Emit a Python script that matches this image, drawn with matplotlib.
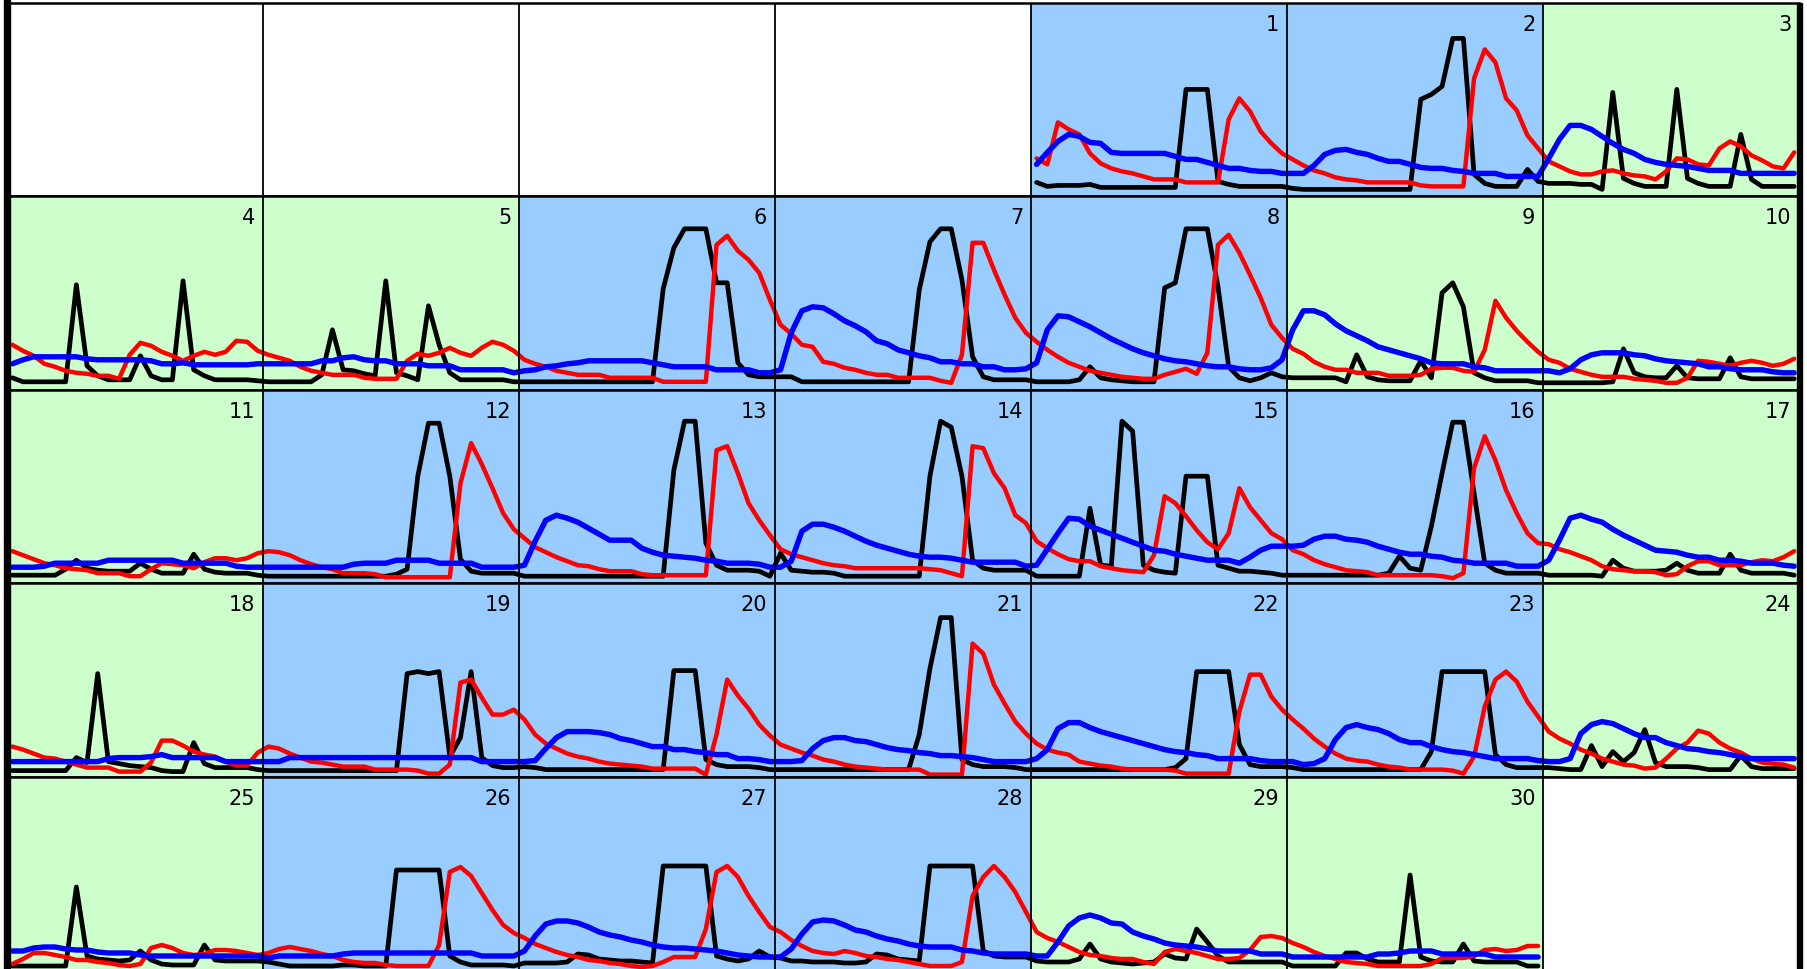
"""Month calendar of hourly profiles: one cell per day, three series per cell."""

import matplotlib

matplotlib.use("Agg")
import matplotlib.pyplot as plt  # noqa: E402
from matplotlib.patches import Rectangle  # noqa: E402

# layout of the month: day 1 falls in column 4 of the first row
FIRST_COL = 4
N_COLS = 7
N_ROWS = 5
GREEN_DAYS = [3, 4, 5, 9, 10, 11, 17, 18, 24, 25, 29, 30]

# hourly values (24 per day), cell height = 193
BLACK = [
    [14, 10, 11, 11, 11, 12, 9, 9, 9, 9, 9, 9, 9, 9, 107, 107, 107, 15, 12, 10, 10, 10, 10, 10],
    [8, 7, 7, 7, 7, 7, 7, 7, 7, 7, 7, 7, 97, 102, 110, 158, 158, 22, 13, 10, 10, 10, 27, 15],
    [13, 13, 13, 12, 12, 7, 104, 18, 13, 10, 10, 10, 107, 18, 13, 10, 10, 10, 62, 17, 10, 10, 10, 10],
    [12, 8, 8, 8, 8, 8, 105, 24, 14, 10, 10, 10, 34, 14, 10, 10, 109, 20, 14, 10, 10, 10, 10, 9],
    [8, 8, 8, 8, 8, 15, 60, 20, 19, 16, 14, 109, 17, 14, 10, 84, 45, 17, 10, 10, 10, 10, 10, 8],
    [8, 8, 8, 8, 8, 8, 8, 8, 8, 8, 8, 8, 8, 101, 142, 161, 161, 161, 107, 107, 27, 15, 13, 13],
    [13, 13, 8, 8, 8, 8, 8, 8, 8, 8, 8, 8, 8, 100, 148, 161, 161, 110, 33, 13, 10, 10, 10, 10],
    [8, 8, 8, 8, 10, 23, 12, 10, 9, 8, 8, 8, 102, 107, 161, 161, 161, 103, 23, 12, 9, 12, 17, 13],
    [12, 12, 12, 12, 12, 8, 35, 13, 10, 9, 9, 9, 29, 12, 97, 107, 83, 17, 12, 9, 9, 9, 9, 7],
    [7, 7, 7, 7, 7, 7, 8, 41, 17, 13, 12, 12, 24, 12, 11, 11, 11, 32, 13, 11, 11, 11, 11, 11],
    [8, 8, 8, 8, 8, 14, 23, 15, 13, 12, 12, 12, 20, 14, 10, 10, 10, 29, 14, 11, 10, 10, 10, 8],
    [7, 7, 7, 7, 7, 7, 7, 7, 7, 7, 7, 7, 9, 14, 107, 160, 160, 107, 24, 12, 10, 10, 10, 10],
    [7, 7, 7, 7, 7, 7, 7, 7, 7, 7, 7, 7, 7, 7, 113, 162, 162, 40, 18, 13, 13, 13, 12, 7],
    [30, 13, 12, 11, 11, 10, 7, 7, 7, 7, 7, 7, 7, 7, 107, 162, 156, 107, 23, 15, 13, 13, 13, 13],
    [7, 7, 7, 7, 7, 75, 18, 17, 162, 152, 18, 13, 11, 10, 107, 107, 107, 18, 15, 12, 12, 11, 10, 8],
    [8, 8, 8, 8, 8, 8, 8, 8, 8, 10, 27, 15, 13, 57, 110, 161, 161, 90, 20, 13, 10, 10, 10, 10],
    [8, 8, 8, 8, 8, 7, 23, 15, 12, 12, 12, 13, 20, 13, 10, 10, 10, 29, 13, 10, 10, 10, 10, 8],
    [6, 6, 6, 6, 6, 6, 19, 14, 103, 15, 13, 11, 10, 9, 6, 5, 5, 34, 13, 9, 9, 9, 9, 7],
    [6, 6, 6, 6, 6, 6, 6, 6, 6, 6, 6, 6, 6, 103, 105, 103, 105, 20, 39, 105, 19, 11, 9, 9],
    [10, 9, 7, 7, 7, 7, 7, 7, 7, 7, 7, 7, 7, 7, 106, 106, 106, 17, 12, 10, 10, 10, 9, 7],
    [7, 7, 7, 7, 7, 7, 7, 7, 7, 7, 7, 7, 7, 42, 108, 159, 159, 17, 12, 10, 10, 10, 9, 7],
    [7, 7, 7, 7, 7, 7, 7, 7, 7, 7, 7, 7, 7, 9, 18, 105, 105, 105, 105, 32, 12, 10, 10, 10],
    [9, 7, 7, 7, 7, 7, 7, 7, 7, 7, 7, 7, 7, 25, 105, 105, 105, 105, 105, 22, 12, 9, 9, 9],
    [9, 8, 7, 7, 31, 10, 25, 15, 24, 47, 14, 10, 10, 10, 9, 7, 7, 7, 21, 10, 8, 8, 8, 8],
    [4, 4, 4, 4, 4, 4, 83, 14, 11, 10, 9, 10, 19, 10, 6, 5, 5, 5, 25, 10, 9, 9, 9, 9],
    [8, 6, 4, 4, 4, 4, 4, 5, 5, 4, 4, 4, 100, 100, 100, 100, 100, 14, 8, 5, 5, 5, 5, 4],
    [7, 7, 7, 7, 8, 16, 15, 11, 10, 9, 9, 8, 7, 104, 104, 104, 104, 104, 14, 11, 9, 11, 19, 13],
    [12, 9, 9, 8, 8, 8, 7, 7, 8, 16, 15, 11, 10, 9, 104, 104, 104, 104, 104, 19, 14, 13, 13, 13],
    [9, 8, 8, 8, 11, 26, 11, 8, 7, 6, 7, 8, 16, 12, 11, 41, 28, 14, 8, 8, 8, 8, 8, 8],
    [4, 4, 4, 4, 4, 17, 17, 11, 8, 8, 8, 95, 13, 9, 8, 8, 26, 9, 8, 8, 8, 8, 4, 4],
]

RED = [
    [38, 32, 74, 67, 62, 43, 33, 28, 25, 23, 20, 17, 17, 17, 14, 14, 14, 14, 77, 98, 85, 65, 53, 43],
    [37, 31, 26, 23, 19, 17, 16, 14, 14, 14, 14, 14, 11, 10, 10, 10, 10, 118, 147, 134, 98, 86, 61, 48],
    [35, 30, 25, 22, 22, 25, 26, 23, 21, 20, 17, 25, 38, 37, 32, 31, 48, 55, 50, 41, 36, 30, 28, 44],
    [45, 39, 34, 26, 23, 19, 17, 16, 14, 14, 11, 35, 47, 44, 38, 34, 29, 34, 38, 35, 38, 49, 48, 39],
    [35, 32, 29, 23, 19, 17, 15, 15, 15, 12, 11, 11, 11, 29, 36, 34, 37, 42, 37, 34, 42, 48, 45, 39],
    [30, 26, 23, 19, 17, 15, 15, 15, 12, 12, 12, 12, 12, 8, 8, 8, 8, 8, 145, 154, 139, 130, 117, 90],
    [65, 56, 45, 43, 28, 26, 22, 20, 17, 15, 15, 12, 12, 12, 12, 9, 7, 35, 147, 147, 120, 95, 72, 57],
    [48, 40, 33, 27, 23, 19, 17, 15, 13, 12, 11, 11, 15, 18, 21, 16, 37, 145, 155, 137, 115, 92, 65, 52],
    [41, 36, 28, 23, 20, 20, 17, 17, 17, 14, 14, 14, 15, 21, 22, 22, 19, 18, 40, 89, 72, 59, 48, 38],
    [30, 27, 21, 18, 15, 13, 13, 13, 11, 10, 9, 7, 7, 12, 29, 28, 26, 24, 27, 29, 27, 24, 26, 31],
    [32, 28, 24, 20, 18, 15, 14, 13, 10, 10, 10, 7, 7, 14, 20, 19, 18, 15, 21, 25, 25, 23, 25, 30],
    [32, 31, 28, 23, 19, 16, 14, 10, 10, 10, 9, 6, 6, 6, 6, 6, 6, 6, 100, 140, 119, 95, 70, 54],
    [45, 36, 31, 26, 22, 18, 17, 14, 12, 12, 12, 9, 8, 8, 8, 8, 8, 8, 133, 137, 110, 80, 63, 48],
    [34, 29, 26, 23, 20, 18, 17, 15, 15, 15, 15, 15, 15, 15, 14, 13, 10, 7, 137, 135, 110, 95, 68, 60],
    [42, 35, 29, 24, 22, 22, 17, 15, 13, 12, 11, 28, 87, 80, 67, 53, 41, 34, 50, 95, 76, 63, 50, 44],
    [33, 29, 23, 19, 16, 13, 12, 11, 8, 8, 8, 8, 8, 8, 7, 5, 10, 115, 147, 123, 93, 70, 50, 40],
    [39, 34, 31, 27, 23, 17, 14, 13, 12, 12, 11, 8, 9, 17, 22, 22, 18, 18, 18, 21, 23, 22, 26, 32],
    [30, 27, 23, 19, 18, 15, 12, 9, 9, 9, 5, 5, 5, 14, 36, 36, 31, 25, 22, 20, 15, 11, 11, 24],
    [30, 28, 23, 19, 15, 14, 12, 10, 10, 10, 7, 7, 7, 7, 6, 3, 3, 12, 94, 97, 79, 62, 62, 67],
    [57, 42, 33, 28, 23, 20, 18, 15, 13, 12, 11, 10, 8, 8, 8, 8, 8, 2, 42, 97, 81, 68, 52, 41],
    [32, 28, 24, 21, 17, 15, 12, 10, 9, 8, 7, 7, 7, 7, 2, 2, 2, 2, 133, 123, 92, 73, 55, 43],
    [33, 27, 24, 22, 15, 13, 11, 10, 8, 7, 7, 7, 7, 6, 3, 3, 3, 3, 3, 65, 102, 102, 80, 67],
    [57, 48, 38, 30, 23, 18, 16, 15, 12, 10, 9, 7, 7, 7, 7, 6, 3, 20, 70, 97, 105, 95, 75, 60],
    [45, 38, 33, 27, 23, 18, 15, 12, 11, 8, 9, 18, 28, 34, 46, 43, 34, 28, 24, 18, 14, 13, 12, 9],
    [6, 11, 17, 17, 15, 13, 10, 10, 8, 7, 5, 4, 6, 22, 25, 22, 17, 15, 16, 20, 20, 19, 17, 15],
    [17, 21, 23, 21, 19, 16, 14, 10, 8, 7, 7, 5, 4, 4, 4, 4, 25, 98, 103, 94, 77, 60, 45, 37],
    [32, 26, 22, 18, 15, 13, 10, 9, 7, 6, 4, 3, 4, 8, 13, 13, 13, 41, 98, 104, 93, 74, 58, 43],
    [38, 30, 24, 19, 17, 16, 19, 17, 14, 13, 11, 10, 8, 6, 4, 4, 4, 8, 74, 93, 104, 93, 78, 58],
    [38, 32, 28, 23, 18, 15, 14, 12, 11, 11, 8, 6, 18, 21, 19, 17, 14, 11, 11, 12, 20, 33, 34, 32],
    [27, 23, 18, 14, 11, 8, 7, 6, 4, 4, 4, 4, 4, 6, 12, 12, 12, 14, 20, 21, 19, 20, 24, 24],
]

BLUE = [
    [32, 44, 55, 62, 60, 54, 53, 44, 43, 43, 43, 43, 43, 40, 37, 37, 34, 31, 28, 28, 26, 25, 25, 23],
    [23, 23, 31, 42, 46, 47, 44, 42, 38, 35, 35, 32, 29, 28, 28, 26, 25, 23, 23, 23, 20, 20, 20, 20],
    [38, 57, 71, 71, 67, 60, 53, 47, 43, 37, 34, 32, 31, 30, 28, 26, 26, 26, 23, 23, 23, 23, 23, 23],
    [26, 30, 33, 33, 33, 33, 33, 31, 30, 30, 30, 30, 30, 29, 26, 26, 27, 25, 25, 25, 25, 25, 25, 26],
    [26, 26, 26, 26, 26, 29, 29, 32, 33, 30, 29, 29, 26, 26, 26, 24, 24, 24, 20, 20, 20, 20, 20, 17],
    [19, 20, 23, 24, 26, 27, 29, 29, 29, 29, 29, 29, 27, 25, 23, 23, 23, 23, 20, 20, 20, 20, 17, 17],
    [20, 57, 79, 83, 82, 76, 69, 64, 58, 49, 46, 40, 37, 34, 32, 28, 28, 26, 26, 23, 23, 20, 20, 21],
    [27, 60, 74, 73, 68, 63, 57, 51, 46, 41, 37, 34, 31, 29, 28, 26, 24, 23, 23, 21, 20, 20, 22, 30],
    [60, 79, 79, 75, 66, 59, 54, 49, 43, 40, 37, 34, 31, 27, 26, 26, 26, 23, 22, 19, 19, 19, 19, 19],
    [19, 17, 21, 30, 35, 37, 37, 37, 35, 34, 31, 29, 28, 27, 26, 23, 23, 21, 20, 20, 20, 18, 17, 17],
    [16, 16, 16, 17, 20, 20, 20, 20, 20, 23, 23, 23, 23, 23, 23, 23, 20, 20, 20, 20, 20, 17, 16, 16],
    [16, 16, 16, 16, 16, 16, 16, 16, 19, 20, 20, 20, 23, 23, 23, 23, 20, 20, 20, 20, 16, 16, 16, 16],
    [18, 42, 63, 68, 65, 61, 55, 49, 43, 43, 43, 35, 31, 28, 27, 26, 25, 23, 22, 20, 20, 20, 19, 16],
    [16, 22, 52, 59, 59, 56, 52, 47, 42, 38, 35, 32, 29, 27, 26, 26, 25, 23, 21, 21, 21, 21, 21, 17],
    [18, 34, 50, 65, 64, 57, 53, 49, 45, 41, 37, 33, 32, 29, 27, 25, 23, 23, 23, 20, 26, 33, 37, 37],
    [37, 38, 44, 47, 47, 44, 43, 41, 37, 34, 31, 29, 29, 27, 26, 23, 22, 20, 20, 20, 20, 17, 17, 17],
    [23, 43, 65, 68, 64, 61, 54, 48, 43, 38, 33, 32, 31, 28, 26, 26, 23, 23, 22, 20, 20, 20, 18, 17],
    [15, 15, 15, 15, 15, 15, 15, 15, 15, 18, 19, 19, 19, 20, 22, 19, 19, 19, 19, 19, 15, 15, 15, 15],
    [15, 15, 19, 19, 19, 19, 19, 19, 19, 19, 19, 19, 19, 19, 19, 19, 19, 19, 19, 19, 15, 15, 15, 15],
    [15, 16, 28, 39, 45, 45, 45, 44, 42, 38, 36, 33, 30, 30, 27, 27, 25, 24, 22, 22, 18, 18, 17, 15],
    [15, 15, 16, 28, 36, 39, 39, 36, 35, 32, 29, 27, 26, 24, 23, 21, 21, 20, 19, 17, 15, 15, 15, 15],
    [18, 27, 48, 54, 54, 49, 45, 42, 39, 36, 33, 30, 27, 25, 24, 22, 21, 18, 18, 18, 18, 16, 15, 15],
    [15, 12, 13, 18, 37, 49, 52, 49, 47, 43, 37, 34, 34, 30, 27, 25, 24, 22, 20, 18, 18, 18, 18, 16],
    [15, 15, 18, 43, 52, 55, 53, 48, 43, 39, 39, 34, 31, 28, 27, 25, 24, 22, 20, 18, 18, 18, 18, 18],
    [19, 19, 22, 23, 23, 21, 20, 20, 18, 17, 17, 17, 15, 14, 14, 14, 14, 14, 14, 14, 14, 14, 14, 14],
    [12, 14, 14, 14, 14, 14, 14, 16, 17, 17, 17, 17, 17, 17, 17, 17, 17, 17, 17, 17, 14, 14, 14, 14],
    [19, 34, 46, 49, 49, 47, 43, 38, 35, 33, 30, 28, 25, 23, 22, 22, 21, 20, 19, 17, 15, 14, 13, 13],
    [13, 21, 36, 48, 50, 49, 45, 40, 38, 34, 31, 29, 26, 24, 23, 23, 23, 20, 19, 17, 16, 16, 16, 16],
    [14, 14, 28, 44, 52, 55, 52, 47, 46, 38, 34, 31, 27, 25, 24, 23, 21, 19, 19, 19, 19, 16, 16, 16],
    [13, 13, 13, 13, 13, 13, 13, 13, 16, 16, 17, 19, 19, 19, 16, 16, 16, 16, 16, 13, 13, 13, 13, 13],
]

WEEKDAY_BG = "#99ccff"
HOLIDAY_BG = "#ccffcc"

W, H = 1808, 969
X_LEFT, X_RIGHT = 7, 1799.5
Y_TOP = 3
ROW_H = 193.4
CELL_YMAX = ROW_H

fig = plt.figure(figsize=(W / 100, H / 100), dpi=100)

n_days = len(BLACK)
for r in range(N_ROWS):
    top = Y_TOP + r * ROW_H
    ax = fig.add_axes([X_LEFT / W, 1 - (top + ROW_H) / H, (X_RIGHT - X_LEFT) / W, ROW_H / H])
    ax.set_xlim(0, N_COLS)
    ax.set_ylim(0, CELL_YMAX)
    ax.set_xticks([])
    ax.set_yticks([])
    for side in ("left", "right"):
        ax.spines[side].set_visible(False)
    for side in ("top", "bottom"):
        ax.spines[side].set_linewidth(1.8)

    xs, kk, rr, bb = [], [], [], []
    for d in range(1, n_days + 1):
        idx = d - 1 + FIRST_COL
        if idx // N_COLS != r:
            continue
        col = idx % N_COLS
        bg = HOLIDAY_BG if d in GREEN_DAYS else WEEKDAY_BG
        ax.axvspan(col, col + 1, color=bg, lw=0, zorder=0)
        ax.text(col + 1 - 8 / 256, CELL_YMAX - 28, str(d), ha="right", va="baseline",
                fontsize=15, color="black", zorder=5)
        xs += [col + (h + 0.5) / 24 for h in range(24)]
        kk += BLACK[d - 1]
        rr += RED[d - 1]
        bb += BLUE[d - 1]

    for c in range(1, N_COLS):
        ax.axvline(c, color="black", lw=1.3, zorder=4)

    ax.plot(xs, kk, color="black", lw=3.4, solid_capstyle="round", zorder=2)
    ax.plot(xs, rr, color="#ff0000", lw=3.2, solid_capstyle="round", zorder=2.5)
    ax.plot(xs, bb, color="#0000ff", lw=3.9, solid_capstyle="round", zorder=3)

# outer frame bars
fig.patches.append(Rectangle((4 / W, 0), 6 / W, 1, transform=fig.transFigure,
                             color="black", zorder=10))
fig.patches.append(Rectangle((1797 / W, 0), 5 / W, 1 - 3 / H, transform=fig.transFigure,
                             color="black", zorder=10))

fig.savefig("out.png", dpi=100)
plt.close(fig)
